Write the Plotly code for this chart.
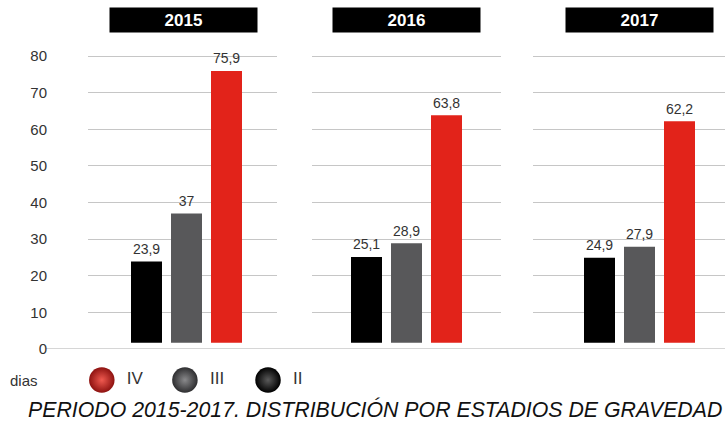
import plotly.graph_objects as go

years = ["2015", "2016", "2017"]
stages = ["II", "III", "IV"]
values_II = [23.9, 25.1, 24.9]
values_III = [37, 28.9, 27.9]
values_IV = [75.9, 63.8, 62.2]
y_ticks = [0, 10, 20, 30, 40, 50, 60, 70, 80]
legend_order = ["IV", "III", "II"]
axis_label = "dias"
title_text = "PERIODO 2015-2017. DISTRIBUCIÓN POR ESTADIOS DE GRAVEDAD"

stage_colors = {"II": "#000000", "III": "#58585a", "IV": "#e2231a"}
sphere_edge = {"IV": "#8e1210", "III": "#2e2e30", "II": "#000000"}
sphere_center = {"IV": "#f05a50", "III": "#8a8a8c", "II": "#5a5a5a"}

W, H = 725, 421
FONT = "Liberation Sans, Arial, Helvetica, sans-serif"
BASE = 1.7

def fmt(v):
    s = ("%.1f" % v).rstrip("0").rstrip(".")
    return s.replace(".", ",")

panel_px = [(88, 277), (312, 501), (533, 725)]
panel_ranges = [[-1.4625, 3.2625], [-1.3625, 3.3625], [-1.6625, 3.1375]]
header_cx = [183.5, 406.7, 639.7]

fig = go.Figure()
for i, yr in enumerate(years):
    vals = [values_II[i], values_III[i], values_IV[i]]
    xa = "x" if i == 0 else f"x{i+1}"
    ya = "y" if i == 0 else f"y{i+1}"
    fig.add_trace(go.Bar(
        x=stages, y=[v - BASE for v in vals], base=BASE,
        marker=dict(color=[stage_colors[s] for s in stages], line=dict(width=0)),
        xaxis=xa, yaxis=ya, showlegend=False, hoverinfo="skip",
    ))
    fig.add_trace(go.Scatter(
        x=stages, y=vals, mode="markers+text",
        text=[fmt(v) for v in vals], textposition="top center",
        textfont=dict(family=FONT, size=14, color="#333333"),
        marker=dict(size=5, color="rgba(0,0,0,0)"),
        xaxis=xa, yaxis=ya, showlegend=False, cliponaxis=False, hoverinfo="skip",
    ))

# legend spheres
fig.add_trace(go.Scatter(
    x=legend_order, y=[0] * len(legend_order), mode="markers+text",
    text=["\u00a0\u2009" + s for s in legend_order], textposition="middle right",
    textfont=dict(family=FONT, size=17, color="#333333"),
    marker=dict(size=25.5, color=[sphere_edge[s] for s in legend_order],
                gradient=dict(type="radial", color=[sphere_center[s] for s in legend_order]),
                line=dict(width=0)),
    xaxis="x4", yaxis="y4", showlegend=False, cliponaxis=False, hoverinfo="skip",
))

main_dom = [72 / H, 380 / H]
layout = dict(
    width=W, height=H, autosize=False, margin=dict(l=0, r=0, t=0, b=0, pad=0),
    paper_bgcolor="white", plot_bgcolor="white",
    bargap=0.225, showlegend=False,
    font=dict(family=FONT, color="#333333"),
)
for i in range(3):
    k = "" if i == 0 else str(i + 1)
    layout["xaxis" + k] = dict(
        domain=[panel_px[i][0] / W, panel_px[i][1] / W], type="category",
        range=panel_ranges[i], showgrid=False, showticklabels=False, zeroline=False,
        showline=False, fixedrange=True, anchor="y" + k, automargin=False,
    )
    layout["yaxis" + k] = dict(
        domain=main_dom, range=[0, 84.1], tickvals=y_ticks, showgrid=True,
        gridcolor="#c6c6c6", gridwidth=1, zeroline=False, showline=False,
        showticklabels=(i == 0), anchor="x" + k, fixedrange=True,
        tickfont=dict(family=FONT, size=15, color="#333333"),
        ticklabelstandoff=40, automargin=False,
    )
layout["xaxis4"] = dict(domain=[0, 1], type="category", range=[-1.225, 7.499],
                        visible=False, anchor="y4", fixedrange=True, automargin=False)
layout["yaxis4"] = dict(domain=[(H - 392) / H, (H - 368) / H], range=[-1, 1],
                        visible=False, anchor="x4", fixedrange=True, automargin=False)
fig.update_layout(**layout)

# zero baseline across full width
fig.add_shape(type="line", xref="paper", yref="y", x0=46 / W, x1=1, y0=0, y1=0,
              line=dict(color="#d6d6d6", width=2), layer="below")

# year headers
for i, yr in enumerate(years):
    fig.add_annotation(
        x=header_cx[i] / W, y=(H - 20) / H, xref="paper", yref="paper",
        text=f"<b>{yr}</b>", showarrow=False, xanchor="center", yanchor="middle",
        width=147, height=24, bgcolor="#000000", borderpad=0,
        font=dict(family=FONT, size=17, color="white"),
    )

fig.add_annotation(x=24.5 / W, y=(H - 380) / H, xref="paper", yref="paper",
                   text=axis_label, showarrow=False, xanchor="center", yanchor="middle",
                   font=dict(family=FONT, size=15, color="#333333"))
fig.add_annotation(x=375 / W, y=(H - 409.5) / H, xref="paper", yref="paper",
                   text=f"<i>{title_text}</i>", showarrow=False, xanchor="center",
                   yanchor="middle", font=dict(family=FONT, size=21.3, color="#111111"))

fig.write_html(
    "out.html",
    config={"responsive": False, "displayModeBar": False},
    post_script="document.body.style.margin='0';document.body.style.padding='0';"
                "document.documentElement.style.overflow='hidden';",
)
